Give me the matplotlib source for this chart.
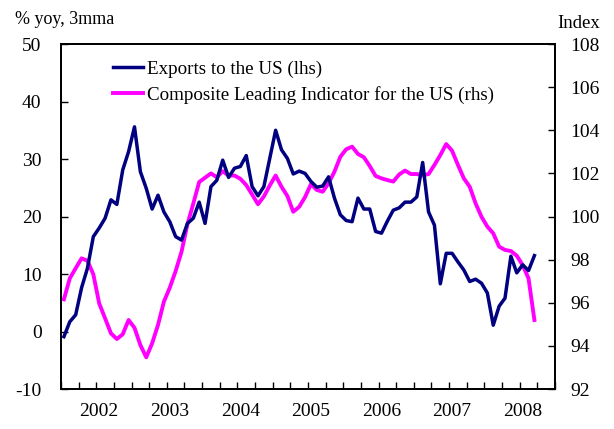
import matplotlib
matplotlib.use("Agg")
import matplotlib.pyplot as plt
import numpy as np

plt.rcParams['font.family'] = ['Liberation Serif', 'DejaVu Serif']
plt.rcParams['axes.unicode_minus'] = False

# Monthly data, Jul 2001 .. Mar 2008
exports_us = [-0.9, 1.7, 2.9, 7.6, 11.0, 16.5, 18.0, 19.7, 22.9, 22.1,
              28.1, 31.3, 35.6, 27.8, 24.9, 21.3, 23.7, 20.8, 19.1, 16.5,
              15.9, 18.8, 19.7, 22.5, 18.8, 25.2, 26.3, 29.8, 26.8, 28.4,
              28.7, 30.6, 25.2, 23.6, 25.2, 30.1, 35.0, 31.6, 30.1, 27.4,
              27.9, 27.5, 26.1, 25.1, 25.3, 26.9, 23.2, 20.3, 19.3, 19.1,
              23.2, 21.3, 21.3, 17.4, 17.1, 19.2, 21.1, 21.5, 22.5, 22.5,
              23.4, 29.4, 20.8, 18.5, 8.3, 13.6, 13.6, 12.1, 10.7, 8.7,
              9.1, 8.4, 6.7, 1.1, 4.4, 5.8, 13.1, 10.2, 11.6, 10.6, 13.2]
cli_us = [96.16, 97.13, 97.6, 98.06, 97.95, 97.32, 95.97, 95.28, 94.58, 94.32,
          94.54, 95.2, 94.84, 94.04, 93.47, 94.12, 94.97, 96.05, 96.7, 97.47,
          98.37, 99.64, 100.6, 101.6, 101.8, 102.0, 101.82, 102.1, 101.9, 101.9,
          101.75, 101.46, 101.02, 100.57, 100.93, 101.44, 101.9, 101.38, 100.95, 100.22,
          100.45, 100.9, 101.5, 101.23, 101.15, 101.54, 102.08, 102.77, 103.12, 103.24,
          102.9, 102.75, 102.34, 101.88, 101.77, 101.69, 101.62, 101.95, 102.13, 101.97,
          101.97, 101.91, 101.97, 102.39, 102.85, 103.36, 103.05, 102.39, 101.77, 101.38,
          100.61, 99.99, 99.53, 99.22, 98.6, 98.45, 98.4, 98.18, 97.75, 97.13, 95.2]
year_labels = ['2002', '2003', '2004', '2005', '2006', '2007', '2008']
year_positions = [6, 18, 30, 42, 54, 66, 78]

x = np.arange(len(exports_us))

fig = plt.figure(figsize=(6.14, 4.29), dpi=100)
ax = fig.add_axes([0.0993, 0.0932, 0.8046, 0.8042])
ax2 = ax.twinx()

navy = '#000080'
magenta = '#FF00FF'
l1, = ax.plot(x, exports_us, color=navy, lw=2.5, label='Exports to the US (lhs)', zorder=3)
l2, = ax2.plot(x, cli_us, color=magenta, lw=2.8, label='Composite Leading Indicator for the US (rhs)', zorder=2)
ax.set_zorder(ax2.get_zorder() + 1)
ax.patch.set_visible(False)

ax.set_xlim(-0.5, 83.5)
ax.set_ylim(-10, 50)
ax2.set_ylim(92, 108)
ax.set_yticks(np.arange(-10, 51, 10))
ax2.set_yticks(np.arange(92, 109, 2))

ax.set_xticks(np.arange(-0.5, 83.6, 3))
ax.set_xticklabels([])
ax.set_xticks(year_positions, minor=True)
ax.set_xticklabels(year_labels, minor=True)
ax.tick_params(axis='x', which='major', direction='in', length=5, width=1, color='black')
ax.tick_params(axis='x', which='minor', length=0, pad=10, labelsize=14)
ax.tick_params(axis='y', direction='in', length=5, width=1, pad=14, labelsize=14)
ax2.tick_params(axis='y', direction='in', length=5, width=1, pad=11, labelsize=14)

for a in (ax, ax2):
    for s in a.spines.values():
        s.set_linewidth(1.3)
        s.set_color('black')

fig.text(0.024, 0.955, '% yoy, 3mma', fontsize=13, ha='left', va='center')
fig.text(0.977, 0.945, 'Index', fontsize=13.5, ha='right', va='center')

leg = ax.legend([l1, l2], [l1.get_label(), l2.get_label()], loc='upper left',
                bbox_to_anchor=(0.09, 0.975), frameon=False, fontsize=13.7,
                handlelength=1.6, handletextpad=0.2, labelspacing=0.42, borderaxespad=0)

fig.savefig('out.png', dpi=100)
